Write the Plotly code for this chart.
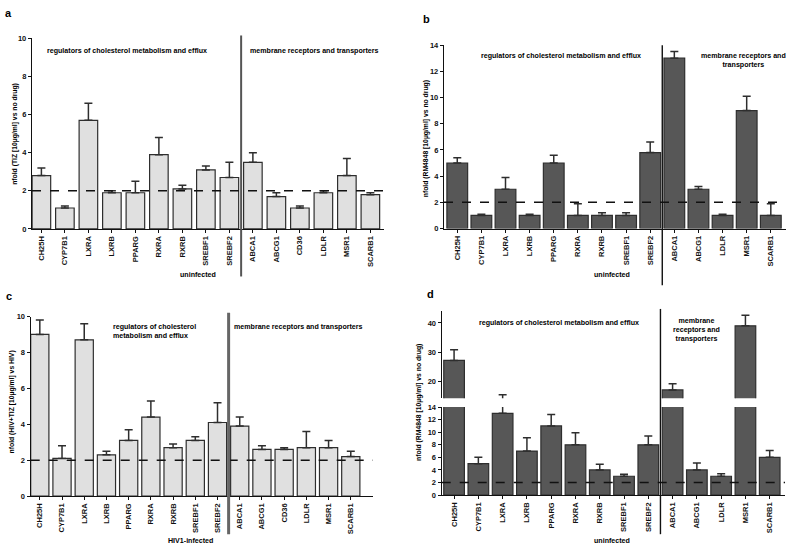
import plotly.graph_objects as go

# ---------------- data ----------------
genes_a = ["CH25H", "CYP7B1", "LXRA", "LXRB", "PPARG", "RXRA", "RXRB", "SREBF1", "SREBF2",
           "ABCA1", "ABCG1", "CD36", "LDLR", "MSR1", "SCARB1"]
genes_b = ["CH25H", "CYP7B1", "LXRA", "LXRB", "PPARG", "RXRA", "RXRB", "SREBF1", "SREBF2",
           "ABCA1", "ABCG1", "LDLR", "MSR1", "SCARB1"]

# panel a: TIZ, uninfected
a_val = [2.8, 1.1, 5.7, 1.9, 1.9, 3.9, 2.1, 3.1, 2.7, 3.5, 1.7, 1.1, 1.9, 2.8, 1.8]
a_err = [0.4, 0.1, 0.9, 0.1, 0.6, 0.9, 0.2, 0.2, 0.8, 0.5, 0.2, 0.1, 0.1, 0.9, 0.1]
# panel b: RM4848, uninfected
b_val = [5.0, 1.0, 3.0, 1.0, 5.0, 1.0, 1.0, 1.0, 5.8, 13.0, 3.0, 1.0, 9.0, 1.0]
b_err = [0.4, 0.1, 0.9, 0.1, 0.6, 0.9, 0.2, 0.2, 0.8, 0.5, 0.2, 0.1, 1.1, 0.9]
# panel c: HIV+TIZ vs HIV, HIV1-infected
c_val = [9.0, 2.1, 8.7, 2.3, 3.1, 4.4, 2.7, 3.1, 4.1, 3.9, 2.6, 2.6, 2.7, 2.7, 2.2]
c_err = [0.8, 0.7, 0.9, 0.2, 0.6, 0.9, 0.2, 0.2, 1.1, 0.5, 0.2, 0.1, 0.9, 0.4, 0.3]
# panel d: RM4848, uninfected (broken axis)
d_val = [27.2, 5.0, 13.0, 7.0, 11.0, 8.0, 4.0, 3.0, 8.0, 17.1, 4.0, 3.0, 39.0, 6.0]
d_err = [3.6, 1.0, 2.5, 2.1, 1.8, 1.9, 0.9, 0.3, 1.4, 2.1, 1.1, 0.4, 3.6, 1.1]

group_left = "regulators of cholesterol metabolism and efflux"
group_right = "membrane receptors and transporters"

W, H = 787, 551
def fx(p): return p / W
def fy(p): return 1 - p / H

LIGHT = "#e0e0e0"
DARK = "#575757"
EDGE = "#2e2e2e"
FONT = "Liberation Sans"

fig = go.Figure()

def bars(x, y, err, color, xa, ya, width):
    fig.add_trace(go.Bar(
        x=x, y=y, width=width, marker=dict(color=color, line=dict(color=EDGE, width=1.2)),
        error_y=dict(type="data", array=err, arrayminus=[0] * len(err), symmetric=False,
                     color=EDGE, thickness=1.5, width=4),
        xaxis=xa, yaxis=ya, showlegend=False))

bars(genes_a, a_val, a_err, LIGHT, "x", "y", 0.79)
bars(genes_b, b_val, b_err, DARK, "x2", "y2", 0.86)
bars(genes_a, c_val, c_err, LIGHT, "x3", "y3", 0.82)
bars(genes_b, d_val, d_err, DARK, "x4", "y4", 0.85)
bars(genes_b, d_val, d_err, DARK, "x4", "y5", 0.85)

tickf = dict(family=FONT, size=7.5, color="#111", weight="bold")
ytickf = dict(family=FONT, size=7.5, color="#111", weight="bold")

def xax(dom, rng, anchor):
    return dict(domain=[fx(dom[0]), fx(dom[1])], range=rng, anchor=anchor, type="category",
                showline=True, linecolor="#111", linewidth=1.2, ticks="outside", ticklen=3,
                tickcolor="#111", tickangle=-90, tickfont=tickf, showgrid=False, zeroline=False,
                fixedrange=True)

def yax(dom, rng, anchor, **kw):
    d = dict(domain=[fy(dom[1]), fy(dom[0])], range=rng, anchor=anchor,
             showline=True, linecolor="#111", linewidth=1.2, ticks="outside", ticklen=3,
             tickcolor="#111", tickfont=ytickf, showgrid=False, zeroline=False, fixedrange=True)
    d.update(kw)
    return d

fig.update_layout(
    width=W, height=H, autosize=False,
    margin=dict(l=0, r=0, t=0, b=0),
    paper_bgcolor="white", plot_bgcolor="white",
    bargap=0,
    xaxis=xax((32, 384), [-0.40, 14.58], "y"),
    yaxis=yax((35, 228.7), [0, 10], "x", dtick=2),
    xaxis2=xax((444, 786), [-0.55, 13.63], "y2"),
    yaxis2=yax((41.7, 228.3), [0, 14], "x2", dtick=2),
    xaxis3=xax((30.7, 373), [-0.41, 15.0], "y3"),
    yaxis3=yax((317.7, 500.3), [0, 10], "x3", dtick=2),
    xaxis4=xax((441.7, 785), [-0.51, 13.63], "y4"),
    yaxis4=yax((409.7, 499.3), [0, 14], "x4", dtick=2),
    yaxis5=yax((312.3, 400.7), [14.3, 44], "x4", tickvals=[20, 30, 40]),
)

shapes = []
# dashed reference lines at y = 2
for xa, ya in [("x", "y"), ("x2", "y2"), ("x3", "y3"), ("x4", "y4")]:
    shapes.append(dict(type="line", xref=xa + " domain", yref=ya, x0=0, x1=1, y0=2, y1=2,
                       line=dict(color="#111", width=1.5, dash="dash")))
# group separators
shapes.append(dict(type="line", xref="x", yref="paper", x0=8.5, x1=8.5, y0=fy(277), y1=fy(32),
                   line=dict(color="#555", width=2)))
shapes.append(dict(type="line", xref="x2", yref="paper", x0=8.5, x1=8.5, y0=fy(286), y1=fy(42),
                   line=dict(color="#111", width=1.4)))
shapes.append(dict(type="line", xref="x3", yref="paper", x0=8.5, x1=8.5, y0=fy(539), y1=fy(314),
                   line=dict(color="#666", width=3)))
shapes.append(dict(type="line", xref="x4", yref="paper", x0=8.5, x1=8.5, y0=fy(539), y1=fy(310),
                   line=dict(color="#111", width=1.4)))
fig.update_layout(shapes=shapes)

anns = []
def ann(text, x, y, size=7.1, xanchor="center", align="center", angle=0):
    anns.append(dict(text=text, x=fx(x), y=fy(y), xref="paper", yref="paper", showarrow=False,
                     xanchor=xanchor, yanchor="middle", align=align, textangle=angle,
                     font=dict(family=FONT, size=size, color="#000", weight="bold")))

# panel letters
ann("a", 8, 9, size=11)
ann("b", 427, 15, size=11)
ann("c", 9, 297, size=11)
ann("d", 430, 295, size=11)

# y-axis titles
ann("nfold (TIZ [10µg/ml] vs no drug)", 15, 132, angle=-90, size=6.8)
ann("nfold (RM4848 [10µg/ml] vs no drug)", 425.5, 137, angle=-90, size=6.8)
ann("nfold (HIV+TIZ [10µg/ml] vs HIV)", 12, 405, angle=-90, size=6.8)
ann("nfold (RM4848 [10µg/ml] vs no drug)", 419.5, 405, angle=-90, size=6.8)

# group texts
ann(group_left, 127, 48)
ann(group_right, 314.5, 48)
ann(group_left, 560.5, 53)
ann("membrane receptors and<br>transporters", 743, 57)
ann("regulators of cholesterol<br>metabolism and efflux", 111, 333, xanchor="left", align="left")
ann(group_right, 298.7, 328.3)
ann(group_left, 558.5, 324.3)
ann("membrane<br>receptors and<br>transporters", 696, 331)

# condition labels
ann("uninfected", 198, 276)
ann("uninfected", 612, 276)
ann("HIV1-infected", 190, 545.5)
ann("uninfected", 612, 545.5)

fig.update_layout(annotations=anns)

fig.write_html(
    "out.html",
    config={"displayModeBar": False, "staticPlot": True},
    post_script="document.body.style.margin='0';document.body.style.overflow='hidden';",
)
